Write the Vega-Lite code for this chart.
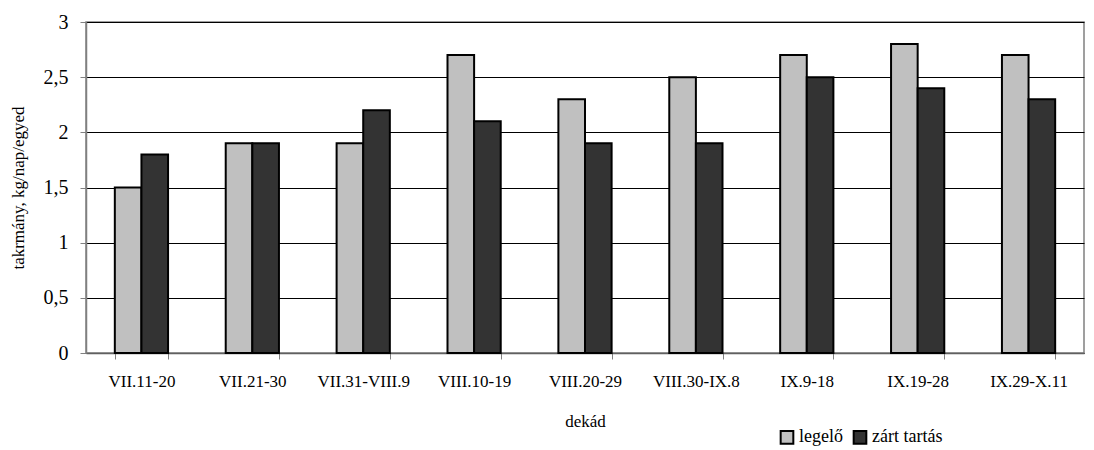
{
  "$schema": "https://vega.github.io/schema/vega-lite/v6.json",
  "width": 998,
  "height": 331,
  "autosize": {"type": "none"},
  "padding": {"left": 86, "top": 22, "right": 10, "bottom": 97},
  "background": "white",
  "config": {
    "font": "Liberation Serif",
    "view": {"stroke": "#808080", "strokeWidth": 1.5},
    "axis": {"labelFont": "Liberation Serif", "titleFont": "Liberation Serif"},
    "legend": {"labelFont": "Liberation Serif", "titleFont": "Liberation Serif"}
  },
  "data": {
    "values": [
      {"dekad": "VII.11-20", "group": "legelő", "value": 1.5},
      {"dekad": "VII.11-20", "group": "zárt tartás", "value": 1.8},
      {"dekad": "VII.21-30", "group": "legelő", "value": 1.9},
      {"dekad": "VII.21-30", "group": "zárt tartás", "value": 1.9},
      {"dekad": "VII.31-VIII.9", "group": "legelő", "value": 1.9},
      {"dekad": "VII.31-VIII.9", "group": "zárt tartás", "value": 2.2},
      {"dekad": "VIII.10-19", "group": "legelő", "value": 2.7},
      {"dekad": "VIII.10-19", "group": "zárt tartás", "value": 2.1},
      {"dekad": "VIII.20-29", "group": "legelő", "value": 2.3},
      {"dekad": "VIII.20-29", "group": "zárt tartás", "value": 1.9},
      {"dekad": "VIII.30-IX.8", "group": "legelő", "value": 2.5},
      {"dekad": "VIII.30-IX.8", "group": "zárt tartás", "value": 1.9},
      {"dekad": "IX.9-18", "group": "legelő", "value": 2.7},
      {"dekad": "IX.9-18", "group": "zárt tartás", "value": 2.5},
      {"dekad": "IX.19-28", "group": "legelő", "value": 2.8},
      {"dekad": "IX.19-28", "group": "zárt tartás", "value": 2.4},
      {"dekad": "IX.29-X.11", "group": "legelő", "value": 2.7},
      {"dekad": "IX.29-X.11", "group": "zárt tartás", "value": 2.3}
    ]
  },
  "mark": {"type": "bar", "stroke": "black", "strokeWidth": 2},
  "encoding": {
    "x": {
      "field": "dekad",
      "type": "nominal",
      "sort": null,
      "scale": {"paddingInner": 0.52, "paddingOuter": 0.26},
      "axis": {
        "title": "dekád",
        "titleFontSize": 17,
        "titleFontWeight": "normal",
        "titleColor": "black",
        "titlePadding": 24,
        "labelFontSize": 17,
        "labelColor": "black",
        "labelAngle": 0,
        "labelPadding": 14,
        "labelOverlap": false,
        "tickBand": "extent",
        "tickSize": 6,
        "tickColor": "#808080",
        "domainColor": "#606060",
        "domainWidth": 1.5,
        "grid": false
      }
    },
    "xOffset": {"field": "group", "type": "nominal", "sort": ["legelő", "zárt tartás"]},
    "y": {
      "field": "value",
      "type": "quantitative",
      "scale": {"domain": [0, 3]},
      "axis": {
        "title": "takrmány, kg/nap/egyed",
        "titleFontSize": 17,
        "titleFontWeight": "normal",
        "titleColor": "black",
        "titlePadding": 16,
        "values": [0, 0.5, 1, 1.5, 2, 2.5, 3],
        "labelExpr": "replace(toString(datum.value), '.', ',')",
        "labelFontSize": 20,
        "labelColor": "black",
        "labelPadding": 12,
        "tickSize": 6,
        "tickColor": "#808080",
        "domainColor": "#808080",
        "domainWidth": 1.5,
        "grid": true,
        "gridColor": "black",
        "gridWidth": 1
      }
    },
    "color": {
      "field": "group",
      "type": "nominal",
      "sort": ["legelő", "zárt tartás"],
      "scale": {"domain": ["legelő", "zárt tartás"], "range": ["#c0c0c0", "#333333"]},
      "legend": {
        "title": null,
        "orient": "none",
        "direction": "horizontal",
        "legendX": 692,
        "legendY": 406,
        "symbolType": "square",
        "symbolSize": 160,
        "symbolStrokeColor": "black",
        "symbolStrokeWidth": 2,
        "symbolOpacity": 1,
        "labelFontSize": 18,
        "labelColor": "black",
        "labelOffset": 3,
        "columnPadding": 6
      }
    }
  }
}
